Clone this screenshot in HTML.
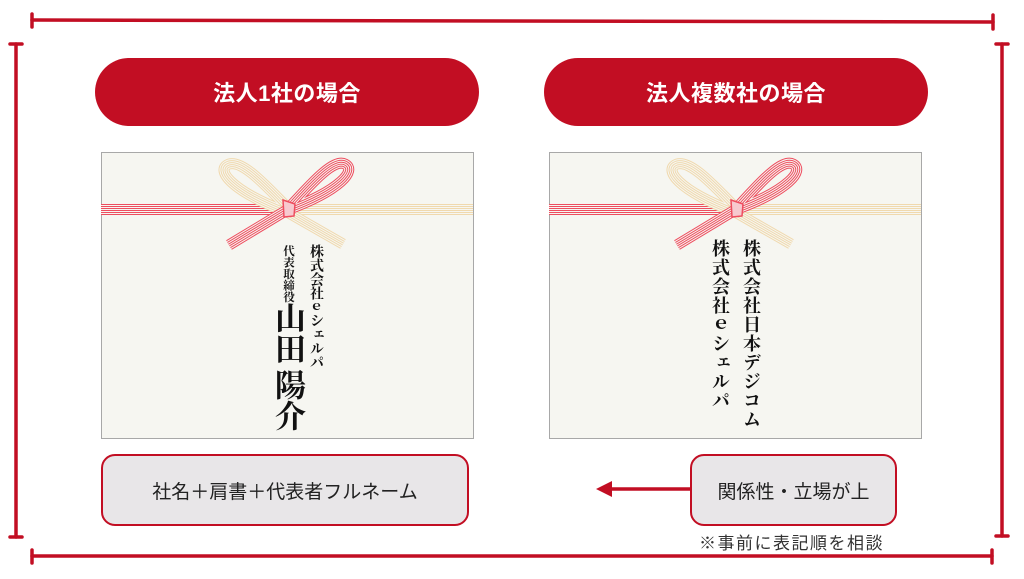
<!DOCTYPE html>
<html><head><meta charset="utf-8">
<style>
html,body{margin:0;padding:0;background:#fff;width:1024px;height:579px;overflow:hidden;position:relative;font-family:"Liberation Sans","Noto Sans CJK JP",sans-serif}
.pill{position:absolute;top:58px;height:68px;width:384px;background:#c20e23;border-radius:34px;color:#fff;font-weight:bold;font-size:22px;display:flex;align-items:center;justify-content:center;letter-spacing:0.5px}
.card{position:absolute;top:152px;width:371px;height:285px;background:#f6f6f1;border:1.5px solid #a8a8a8}
.box{position:absolute;top:454px;height:68px;background:#e8e6e8;border:2px solid #c20e23;border-radius:14px;display:flex;align-items:center;justify-content:center;font-size:19px;color:#222}
.v{position:absolute;writing-mode:vertical-rl;font-family:"Liberation Serif","Noto Serif CJK JP",serif;font-weight:bold;color:#111;white-space:nowrap}
</style></head><body>
<svg width="1024" height="579" style="position:absolute;left:0;top:0">
<g stroke="#c20e23" stroke-width="3.5" fill="none" stroke-linecap="round">
<line x1="32" y1="20" x2="993" y2="22"/><line x1="32" y1="14" x2="32" y2="27"/><line x1="993" y1="15" x2="993" y2="29"/>
<line x1="16" y1="44" x2="16" y2="537"/><line x1="10" y1="44" x2="22" y2="44"/><line x1="10" y1="537" x2="22" y2="537"/>
<line x1="1002" y1="44" x2="1002" y2="536"/><line x1="996" y1="44" x2="1008" y2="44"/><line x1="996" y1="536" x2="1008" y2="536"/>
<line x1="32" y1="556" x2="992" y2="556"/><line x1="32" y1="550" x2="32" y2="563"/><line x1="992" y1="550" x2="992" y2="563"/>
<line x1="690" y1="489" x2="612" y2="489"/>
</g>
<polygon points="596,489 612,481 612,497" fill="#c20e23"/>
</svg>
<div class="pill" style="left:95px">法人1社の場合</div>
<div class="pill" style="left:544px">法人複数社の場合</div>

<div class="card" style="left:101px"></div>
<div class="card" style="left:549px"></div>

<svg width="1024" height="579" style="position:absolute;left:0;top:0">
<defs>
<g id="mz" fill="none" stroke-linecap="butt">
 <g stroke="#f0d9ae"><path d="M190,57.5 H372" stroke-width="11"/><path d="M190,57.5 H372" stroke="#f6f6f1" stroke-width="9"/><path d="M190,57.5 H372" stroke-width="7"/><path d="M190,57.5 H372" stroke="#f6f6f1" stroke-width="5"/><path d="M190,57.5 H372" stroke-width="3"/><path d="M190,57.5 H372" stroke="#f6f6f1" stroke-width="1"/></g>
 <g stroke="#ee4d5f"><path d="M0,57.5 H186" stroke-width="11"/><path d="M0,57.5 H186" stroke="#f6f6f1" stroke-width="9"/><path d="M0,57.5 H186" stroke-width="7"/><path d="M0,57.5 H186" stroke="#f6f6f1" stroke-width="5"/><path d="M0,57.5 H186" stroke-width="3"/><path d="M0,57.5 H186" stroke="#f6f6f1" stroke-width="1"/></g>
</g>
<path id="gp" d="M186,55 C165,34 142,8 128,12 C114,17 128,38 186,60 L242,92" fill="none"/>
<path id="rp" d="M186,58 C208,34 232,6 244,12 C256,18 240,38 186,58 L128,93" fill="none"/>
</defs>
<g transform="translate(101,152)">
 <use href="#mz"/>
 <g fill="none">
  <use href="#gp" stroke="#f0d9ae" stroke-width="11"/><use href="#gp" stroke="#f6f6f1" stroke-width="9"/><use href="#gp" stroke="#f0d9ae" stroke-width="7"/><use href="#gp" stroke="#f6f6f1" stroke-width="5"/><use href="#gp" stroke="#f0d9ae" stroke-width="3"/><use href="#gp" stroke="#f6f6f1" stroke-width="1"/>
  <use href="#rp" stroke="#ee4d5f" stroke-width="11"/><use href="#rp" stroke="#f6f6f1" stroke-width="9"/><use href="#rp" stroke="#ee4d5f" stroke-width="7"/><use href="#rp" stroke="#f6f6f1" stroke-width="5"/><use href="#rp" stroke="#ee4d5f" stroke-width="3"/><use href="#rp" stroke="#f6f6f1" stroke-width="1"/>
 </g>
 <path d="M182,48 L194,52 L193,64 L183,65 Z" fill="#f7c9cf" stroke="#ee4d5f" stroke-width="1.5"/>
</g>
<g transform="translate(549,152)">
 <use href="#mz"/>
 <g fill="none">
  <use href="#gp" stroke="#f0d9ae" stroke-width="11"/><use href="#gp" stroke="#f6f6f1" stroke-width="9"/><use href="#gp" stroke="#f0d9ae" stroke-width="7"/><use href="#gp" stroke="#f6f6f1" stroke-width="5"/><use href="#gp" stroke="#f0d9ae" stroke-width="3"/><use href="#gp" stroke="#f6f6f1" stroke-width="1"/>
  <use href="#rp" stroke="#ee4d5f" stroke-width="11"/><use href="#rp" stroke="#f6f6f1" stroke-width="9"/><use href="#rp" stroke="#ee4d5f" stroke-width="7"/><use href="#rp" stroke="#f6f6f1" stroke-width="5"/><use href="#rp" stroke="#ee4d5f" stroke-width="3"/><use href="#rp" stroke="#f6f6f1" stroke-width="1"/>
 </g>
 <path d="M182,48 L194,52 L193,64 L183,65 Z" fill="#f7c9cf" stroke="#ee4d5f" stroke-width="1.5"/>
</g>
</svg>

<div class="v" style="left:305px;top:244px;font-size:14px;letter-spacing:0px">株式会社<span style="font-size:13px">ｅ</span>シェルパ</div>
<div class="v" style="left:280px;top:245px;font-size:11.5px">代表取締役</div>
<div class="v" style="left:271px;top:302px;font-size:31px;line-height:32px">山田</div>
<div class="v" style="left:271px;top:369px;font-size:31px;line-height:32px">陽介</div>

<div class="v" style="left:741px;top:239px;font-size:18px;line-height:20px;letter-spacing:1px">株式会社日本デジコム</div>
<div class="v" style="left:710px;top:239px;font-size:18px;line-height:20px;letter-spacing:1px">株式会社<span>ｅ</span>シェルパ</div>

<div class="box" style="left:101px;width:364px">社名＋肩書＋代表者フルネーム</div>
<div class="box" style="left:690px;width:203px">関係性・立場が上</div>
<div style="position:absolute;left:699px;top:529px;font-size:17px;color:#333;letter-spacing:1.5px;white-space:nowrap">※事前に表記順を相談</div>
</body></html>
